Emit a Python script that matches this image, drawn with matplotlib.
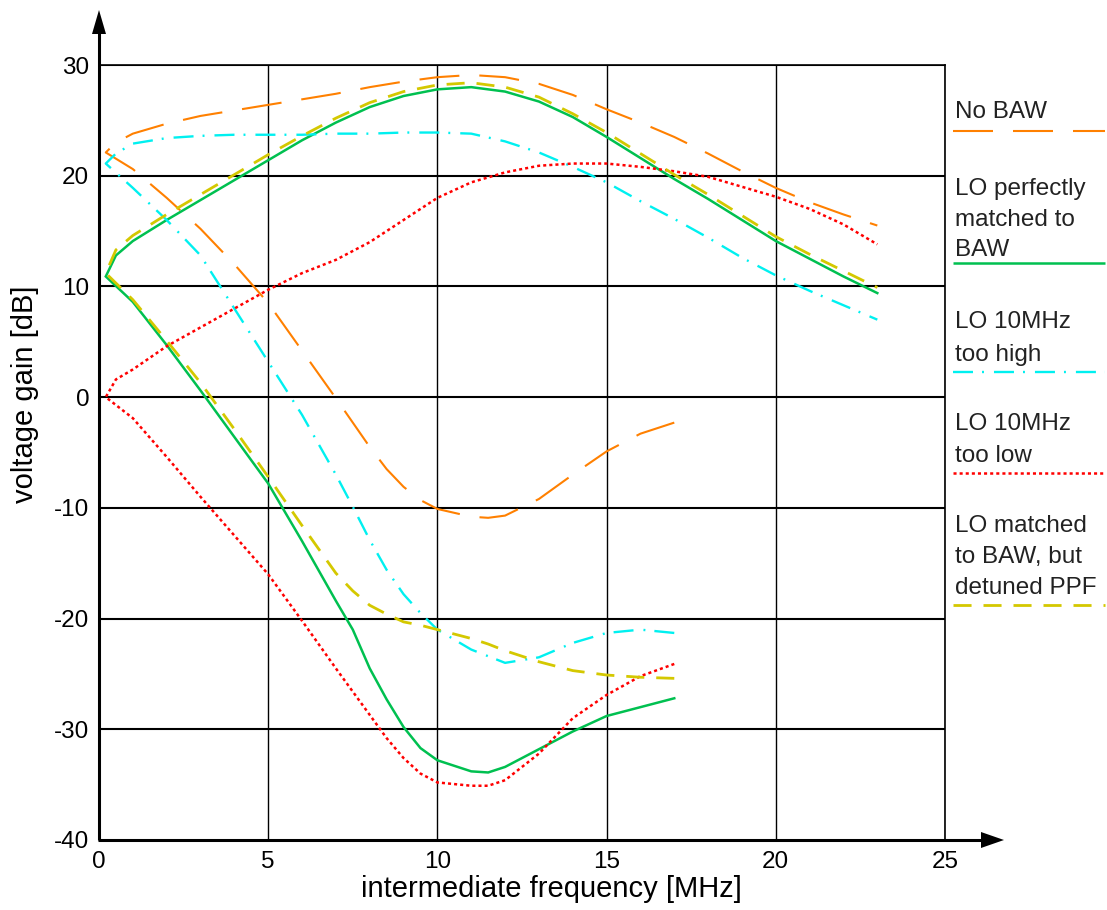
import numpy as np
import matplotlib
matplotlib.use("Agg")
import matplotlib.pyplot as plt

plt.rcParams['font.family'] = ['Liberation Sans', 'DejaVu Sans']
plt.rcParams['lines.scale_dashes'] = False
plt.rcParams['axes.unicode_minus'] = False

# ---- data -----------------------------------------------------------------
# upper (wanted-sideband) branch, frequency in MHz
freq_up = [0.2, 0.5, 1, 2, 3, 4, 5, 6, 7, 8, 9, 10, 11, 12, 13, 14, 15, 16,
           17, 18, 19, 20, 21, 22, 23]
# lower (image-sideband) branch
freq_low = [0.2, 1, 2, 3, 4, 5, 6, 7, 7.5, 8, 8.5, 9, 9.5, 10, 11, 11.5, 12,
            13, 14, 15, 16, 17]

no_baw_up = [22.1, 23.0, 23.8, 24.7, 25.4, 25.9, 26.4, 26.9, 27.4, 28.0, 28.5,
             28.9, 29.1, 28.9, 28.3, 27.3, 26.0, 24.8, 23.5, 22.0, 20.4, 18.9,
             17.6, 16.5, 15.5]
no_baw_low = [22.1, 20.6, 18.0, 15.2, 12.0, 8.5, 4.2, -0.1, -2.3, -4.5, -6.5,
              -8.1, -9.3, -10.1, -10.8, -10.9, -10.7, -9.2, -7.0, -4.9, -3.3,
              -2.3]

matched_up = [10.9, 12.8, 14.1, 16.0, 17.8, 19.6, 21.4, 23.2, 24.8, 26.2, 27.2,
              27.8, 28.0, 27.6, 26.7, 25.3, 23.5, 21.6, 19.7, 17.9, 16.0, 14.1,
              12.5, 10.9, 9.4]
matched_low = [10.9, 8.6, 4.7, 0.6, -3.6, -7.8, -13.0, -18.4, -21.0, -24.5,
               -27.3, -29.8, -31.7, -32.8, -33.8, -33.9, -33.4, -31.8, -30.2,
               -28.8, -28.0, -27.2]

high_up = [21.1, 22.0, 22.9, 23.4, 23.6, 23.7, 23.7, 23.7, 23.8, 23.8, 23.9,
           23.9, 23.8, 23.1, 22.1, 20.8, 19.4, 17.7, 16.1, 14.4, 12.6, 11.0,
           9.6, 8.3, 7.0]
high_low = [21.1, 18.9, 16.0, 12.8, 8.0, 3.2, -1.6, -7.0, -9.9, -12.9, -15.6,
            -17.8, -19.5, -21.0, -22.8, -23.4, -24.0, -23.5, -22.2, -21.3,
            -21.0, -21.3]

low_up = [0.0, 1.6, 2.5, 4.6, 6.3, 8.0, 9.7, 11.2, 12.4, 14.0, 16.0, 18.0,
          19.4, 20.3, 20.9, 21.1, 21.1, 20.8, 20.4, 19.9, 19.0, 18.1, 17.0,
          15.6, 13.8]
low_low = [0.0, -1.9, -5.4, -9.0, -12.5, -16.0, -20.2, -24.5, -26.6, -28.7,
           -30.8, -32.6, -34.0, -34.8, -35.1, -35.1, -34.6, -32.2, -29.0,
           -26.9, -25.2, -24.1]

ppf_up = [11.2, 13.3, 14.6, 16.5, 18.3, 20.1, 21.9, 23.6, 25.2, 26.6, 27.6,
          28.2, 28.4, 28.0, 27.1, 25.6, 23.9, 22.0, 20.1, 18.3, 16.4, 14.5,
          12.9, 11.4, 9.9]
ppf_low = [11.2, 8.8, 5.1, 1.3, -2.9, -7.2, -11.6, -15.9, -17.5, -18.8, -19.6,
           -20.3, -20.6, -21.0, -21.8, -22.3, -22.9, -23.9, -24.7, -25.1,
           -25.3, -25.4]

x_ticks = [0, 5, 10, 15, 20, 25]
y_ticks = [-40, -30, -20, -10, 0, 10, 20, 30]

labels = ["No BAW",
          "LO perfectly\nmatched to\nBAW",
          "LO 10MHz\ntoo high",
          "LO 10MHz\ntoo low",
          "LO matched\nto BAW, but\ndetuned PPF"]

# ---- styles ---------------------------------------------------------------
styles = [
    dict(color='#ff8000', lw=1.5, dashes=(28.8, 14.4)),
    dict(color='#00c050', lw=1.8, linestyle='-'),
    dict(color='#00f0f0', lw=1.7, dashes=(14.4, 6.5, 1.4, 7.2)),
    dict(color='#ff0000', lw=1.8, dashes=(2.2, 2.2)),
    dict(color='#d4c800', lw=2.0, dashes=(13.0, 8.6)),
]
series = [(no_baw_up, no_baw_low), (matched_up, matched_low),
          (high_up, high_low), (low_up, low_low), (ppf_up, ppf_low)]

W, H = 1107, 910
fig = plt.figure(figsize=(W / 100, H / 100), dpi=100)
fig.patch.set_facecolor('white')

L, R, T, B = 99, 945, 65, 840
ax = fig.add_axes([L / W, 1 - B / H, (R - L) / W, (B - T) / H])
ax.set_xlim(0, 25)
ax.set_ylim(-40, 30)
ax.set_xticks(x_ticks)
ax.set_yticks(y_ticks)
ax.tick_params(length=0, labelsize=17.5)
ax.tick_params(axis='y', pad=7)
ax.tick_params(axis='x', pad=8)

for y in y_ticks[1:]:
    ax.axhline(y, color='black', lw=1.5, zorder=1)
for x in x_ticks[1:]:
    ax.axvline(x, color='black', lw=1.0, zorder=1)

for s in ['left', 'bottom']:
    ax.spines[s].set_visible(False)
for s in ['top', 'right']:
    ax.spines[s].set_linewidth(1.2)

# each curve runs from the end of the image branch back to the origin, then
# out along the wanted branch
for (up, low), st in zip(series, styles):
    xs = list(freq_low[::-1]) + list(freq_up[1:])
    ys = list(low[::-1]) + list(up[1:])
    ax.plot(xs, ys, zorder=3, solid_joinstyle='miter', **st)

# overlay in pixel coordinates for axis arrows, labels and the key
ov = fig.add_axes([0, 0, 1, 1], zorder=5)
ov.set_xlim(0, W)
ov.set_ylim(H, 0)
ov.axis('off')
ov.patch.set_visible(False)

# axes with arrow heads
ov.plot([L, L], [B, 30], color='black', lw=2.2, solid_capstyle='butt')
ov.plot([L - 1, 985], [B, B], color='black', lw=2.2, solid_capstyle='butt')
ov.fill([L - 7, L + 7, L], [34, 34, 10], color='black', lw=0)
ov.fill([981, 981, 1004], [B - 8, B + 8, B], color='black', lw=0)

ov.text(551, 897, "intermediate frequency [MHz]", fontsize=21,
        ha='center', va='baseline')
ov.text(33, 394, "voltage gain [dB]", fontsize=21, rotation=90,
        rotation_mode='anchor', ha='center', va='baseline')

# key to the right of the plot
key_lines = [[110], [187, 218, 248], [320, 352], [422, 453], [524, 555, 585]]
key_marks = [131, 263, 372, 473, 605]
for lab, ys, ym, st in zip(labels, key_lines, key_marks, styles):
    for txt, yc in zip(lab.split('\n'), ys):
        ov.text(955, yc + 8.5, txt, fontsize=17.5, ha='left', va='baseline',
                color='#222222')
    ov.plot([953, 1105], [ym, ym], solid_capstyle='butt', **st)

fig.savefig('out.png', dpi=100, facecolor='white')
